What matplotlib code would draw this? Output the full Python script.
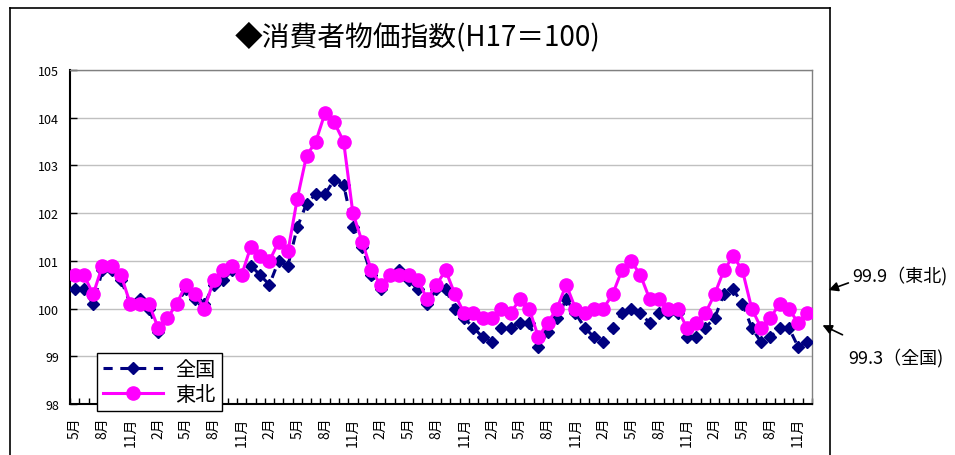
import matplotlib
matplotlib.use("Agg")
import matplotlib.pyplot as plt
import numpy as np
from matplotlib.lines import Line2D
from matplotlib.patches import FancyArrowPatch

plt.rcParams["font.family"] = ["Noto Sans CJK JP", "DejaVu Sans"]

# Monthly consumer price index (H17 = 100), May through December of the last year
national = [
    100.4, 100.4, 100.1, 100.8, 100.8, 100.6, 100.1, 100.2, 100.0, 99.5,
    99.8, 100.1, 100.4, 100.2, 100.1, 100.5, 100.6, 100.8, 100.7, 100.9,
    100.7, 100.5, 101.0, 100.9, 101.7, 102.2, 102.4, 102.4, 102.7, 102.6,
    101.7, 101.3, 100.7, 100.4, 100.7, 100.8, 100.6, 100.4, 100.1, 100.4,
    100.4, 100.0, 99.8, 99.6, 99.4, 99.3, 99.6, 99.6, 99.7, 99.7,
    99.2, 99.5, 99.8, 100.2, 99.9, 99.6, 99.4, 99.3, 99.6, 99.9,
    100.0, 99.9, 99.7, 99.9, 99.9, 99.9, 99.4, 99.4, 99.6, 99.8,
    100.3, 100.4, 100.1, 99.6, 99.3, 99.4, 99.6, 99.6, 99.2, 99.3,
]
tohoku = [
    100.7, 100.7, 100.3, 100.9, 100.9, 100.7, 100.1, 100.1, 100.1, 99.6,
    99.8, 100.1, 100.5, 100.3, 100.0, 100.6, 100.8, 100.9, 100.7, 101.3,
    101.1, 101.0, 101.4, 101.2, 102.3, 103.2, 103.5, 104.1, 103.9, 103.5,
    102.0, 101.4, 100.8, 100.5, 100.7, 100.7, 100.7, 100.6, 100.2, 100.5,
    100.8, 100.3, 99.9, 99.9, 99.8, 99.8, 100.0, 99.9, 100.2, 100.0,
    99.4, 99.7, 100.0, 100.5, 100.0, 99.9, 100.0, 100.0, 100.3, 100.8,
    101.0, 100.7, 100.2, 100.2, 100.0, 100.0, 99.6, 99.7, 99.9, 100.3,
    100.8, 101.1, 100.8, 100.0, 99.6, 99.8, 100.1, 100.0, 99.7, 99.9,
]
tick_labels = [
    "5月", "8月", "11月", "2月", "5月", "8月", "11月", "2月", "5月",
    "8月", "11月", "2月", "5月", "8月", "11月", "2月", "5月", "8月",
    "11月", "2月", "5月", "8月", "11月", "2月", "5月", "8月", "11月",
]
series_names = ["全国", "東北"]
latest_notes = ["99.9（東北)", "99.3（全国)"]

W, H = 955, 456
fig = plt.figure(figsize=(W / 100, H / 100), dpi=100)


def fx(px):
    return px / W


def fy(py):
    return 1 - py / H


ax = fig.add_axes([fx(70), fy(405), fx(812) - fx(70), fy(71) - fy(405)])
x = np.arange(len(national))

ax.plot(x, national, color="#000080", lw=2.2, ls=(0, (3, 2.5)), marker="D",
        ms=6.5, label=series_names[0], zorder=3)
ax.plot(x, tohoku, color="#FF00FF", lw=2.2, marker="o", ms=9.5,
        label=series_names[1], zorder=4)

ax.set_xlim(-0.5, len(x) - 0.5)
ax.set_ylim(98, 105)
ax.set_yticks(range(98, 106))
ax.yaxis.grid(True, color="#c0c0c0", lw=1)
ax.set_axisbelow(True)

ax.set_xticks(range(0, len(x), 3))
ax.set_xticklabels(tick_labels, rotation=90, fontsize=10)
ax.tick_params(axis="x", which="major", length=0, pad=9)
ax.set_xticks(np.arange(-0.5, len(x), 1), minor=True)
ax.tick_params(axis="x", which="minor", direction="in", length=4, width=1)
ax.tick_params(axis="y", direction="in", length=5, width=1, labelsize=9, pad=8)

for side in ("left", "bottom"):
    ax.spines[side].set_color("black")
    ax.spines[side].set_linewidth(1.5)
for side in ("top", "right"):
    ax.spines[side].set_color("#808080")
    ax.spines[side].set_linewidth(1.0)

leg = fig.legend(loc="lower left", bbox_to_anchor=(fx(97), fy(412)),
                 fontsize=14.5, frameon=True, fancybox=False, edgecolor="black",
                 framealpha=1, handlelength=3.0, borderpad=0.3,
                 labelspacing=0.2, handletextpad=0.6, borderaxespad=0)
leg.get_frame().set_linewidth(1.0)

fig.text(fx(418), fy(37), "◆消費者物価指数(H17＝100)", ha="center",
         va="center", fontsize=20)

# latest-value callouts outside the chart frame
fig.text(fx(852), fy(276), latest_notes[0], ha="left", va="center", fontsize=13)
fig.text(fx(848), fy(358), latest_notes[1], ha="left", va="center", fontsize=13)
for tail, head in (((851, 283), (826, 292)), ((845, 337), (820, 325))):
    fig.add_artist(FancyArrowPatch((fx(tail[0]), fy(tail[1])),
                                   (fx(head[0]), fy(head[1])),
                                   transform=fig.transFigure, arrowstyle="-|>",
                                   mutation_scale=14, color="black", lw=1.2))

# chart-area frame
frame_kw = dict(transform=fig.transFigure, color="black", lw=1.2)
fig.add_artist(Line2D([fx(10), fx(830)], [fy(9), fy(9)], **frame_kw))
fig.add_artist(Line2D([fx(830), fx(830)], [fy(9), 0], **frame_kw))
fig.add_artist(Line2D([fx(10), fx(10)], [fy(9), 0], **frame_kw))

fig.savefig("out.png", dpi=100)
